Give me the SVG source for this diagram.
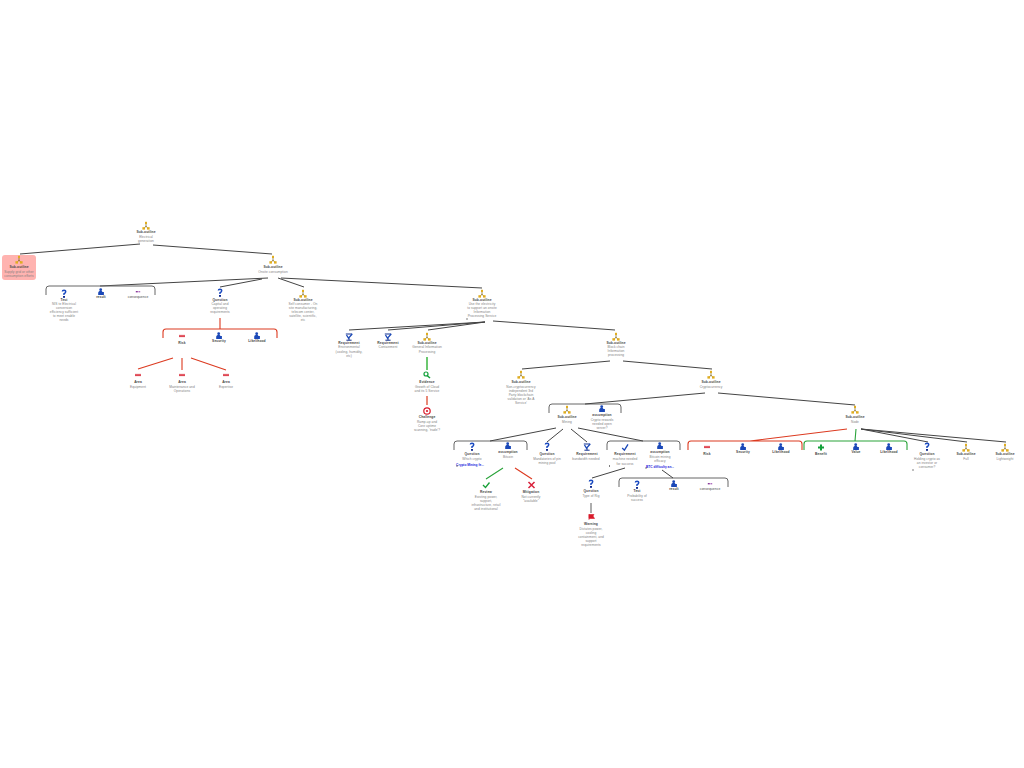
<svg xmlns="http://www.w3.org/2000/svg" width="1024" height="768" viewBox="0 0 1024 768">
<style>
text{font-family:"Liberation Sans",Arial,sans-serif;text-anchor:middle}
.t{font-size:3.3px;font-weight:bold;fill:#444;letter-spacing:.1px}
.b{font-size:3.2px;fill:#808080;letter-spacing:.08px}
.l{font-size:3.2px;fill:#22d;font-weight:bold}
.c{fill:none;stroke:#444;stroke-width:1}
.k{fill:none;stroke:#666;stroke-width:1}
.r{fill:none;stroke:#dc3a20;stroke-width:1.1}
.g{fill:none;stroke:#2aa33a;stroke-width:1.1}
</style>
<defs>
<g id="hier"><path d="M0-3V0M-2 2.5L0 0L2 2.5" fill="none" stroke="#7a6010" stroke-width=".7"/><rect x="-1" y="-4.200" width="2" height="2.200" fill="#e0ad20"/><rect x="-3.600" y="1.200" width="2.600" height="2.400" fill="#e0ad20"/><rect x="1" y="1.200" width="2.600" height="2.400" fill="#e0ad20"/></g>
<g id="q"><path d="M-1.600-2.400Q-1.600-3.800 0-3.800Q1.700-3.800 1.700-2.200Q1.700-1 0-.3V1" fill="none" stroke="#1a4ac0" stroke-width="1.500"/><rect x="-1" y="2" width="2" height="1.800" fill="#102a90"/></g>
<g id="p"><circle cx="-.3" cy="-2.300" r="1.400" fill="#1a48b8"/><path d="M-2.800 3V.6Q-2.400 -1.200 -.3 -1.200Q1 -1.200 1.500 0H2.900V3Z" fill="#1a48b8"/></g>
<g id="cons"><rect x="-2.200" y="-1" width="2" height="1.400" fill="#8a3a9a"/><rect x=".4" y="-1" width="1.800" height="1.400" fill="#b070c0"/></g>
<g id="minus"><rect x="-3" y="-1.100" width="6" height="2.200" fill="#d83040"/><rect x="-3" y="-.4" width="6" height=".6" fill="#f7a8a8"/></g>
<g id="req"><path d="M-3.200-3H3.200M-2.600 3.200H2.600M0 3.200V1" stroke="#103090" stroke-width="1" fill="none"/><path d="M-2.500-2L-.5 1.200L3.200-3" fill="none" stroke="#1a48b8" stroke-width="1.300"/></g>
<g id="chk"><path d="M-2.800 1L-.6 3.200L3-2.600" fill="none" stroke="#1a48b8" stroke-width="1.300"/></g>
</defs>

<g id="connectors">
<path class="c" d="M140 244L20 254M153 245L272 254M268 278L100 286M262 279L220 287M278 278L304 287M281 278L482 288"/>
<path class="k" d="M46 295v-6q0-3 3-3h103q3 0 3 3v6M549 413v-6q0-3 3-3h66q3 0 3 3v6M454 450v-6q0-3 3-3h67q3 0 3 3v6M607 450v-6q0-3 3-3h67q3 0 3 3v6M619 487v-6q0-3 3-3h103q3 0 3 3v6"/>
<path class="r" d="M220 318V329M163 338v-6q0-3 3-3h108q3 0 3 3v6M173 358L138 369M182 358V370M191 358L226 370M847 429L750 441M688 450v-6q0-3 3-3h108q3 0 3 3v6M515 468L532 479"/>
<path class="g" d="M804 450v-6q0-3 3-3h97q3 0 3 3v6M856 429L855 441M503 468L486 479"/>
<path class="c" d="M485 322L349 330M485 322L388 330M485 322L428 330M493 321L615 330M610 361L522 369M623 361L712 369M705 393L585 404M718 393L855 405M556 428L490 441M563 429L547 442M571 429L587 442M578 428L643 441M625 468L592 478M662 470L673 478M861 429L928 442M861 429L967 442M861 429L1006 442"/>
<path d="M427 357V370" fill="none" stroke="#6cc870" stroke-width="2"/>
<path d="M427 396V405" fill="none" stroke="#e88a78" stroke-width="2"/>
<path d="M591 503V513" fill="none" stroke="#999" stroke-width="1.600"/>
</g>

<g id="n-root"><use href="#hier" x="146" y="226"/><text class="t" x="146" y="232.500">Sub-outline</text><text class="b" x="146" y="238">Electrical</text><text class="b" x="146" y="242">generation</text></g>
<g id="n-grid"><rect x="2" y="255" width="34" height="25" rx="3" fill="#ffb3b0"/><use href="#hier" x="19" y="260"/><text class="t" x="19" y="267.500">Sub-outline</text><text class="b" x="19" y="272.500">Supply grid or other</text><text class="b" x="19" y="276.500">consumption efforts</text></g>
<g id="n-onsite"><use href="#hier" x="273" y="260"/><text class="t" x="273" y="267.500">Sub-outline</text><text class="b" x="273" y="272.500">Onsite consumption</text></g>
<g id="n-test1"><use href="#q" x="64" y="294"/><text class="t" x="64" y="300.500">Test</text><text class="b" x="64" y="305">NIS te Electrical</text><text class="b" x="64" y="309">conversion</text><text class="b" x="64" y="313">efficiency sufficient</text><text class="b" x="64" y="317">to meet enable</text><text class="b" x="64" y="321">needs</text></g>
<g id="n-result1"><use href="#p" x="101" y="292"/><text class="t" x="101" y="298">result</text></g>
<g id="n-cons1"><use href="#cons" x="138" y="292"/><text class="t" x="138" y="298" style="font-weight:normal">consequence</text></g>
<g id="n-q-capital"><use href="#q" x="220" y="293"/><text class="t" x="220" y="300.500">Question</text><text class="b" x="220" y="305">Capital and</text><text class="b" x="220" y="309">operating</text><text class="b" x="220" y="313">requirements</text></g>
<g id="n-self"><use href="#hier" x="303" y="294"/><text class="t" x="303" y="300.500">Sub-outline</text><text class="b" x="303" y="305">Self consumer - On</text><text class="b" x="303" y="309">site manufacturing,</text><text class="b" x="303" y="313">telecom center,</text><text class="b" x="303" y="317">satellite, scientific,</text><text class="b" x="303" y="321">etc</text></g>
<g id="n-risk1"><use href="#minus" x="182" y="336"/><text class="t" x="182" y="343.500">Risk</text></g>
<g id="n-sec1"><use href="#p" x="219" y="336"/><text class="t" x="219" y="341.500">Security</text></g>
<g id="n-lik1"><use href="#p" x="257" y="336"/><text class="t" x="257" y="341.500">Likelihood</text></g>
<g id="n-area1"><use href="#minus" x="138" y="375"/><text class="t" x="138" y="383">Area</text><text class="b" x="138" y="388">Equipment</text></g>
<g id="n-area2"><use href="#minus" x="182" y="375"/><text class="t" x="182" y="383">Area</text><text class="b" x="182" y="388">Maintenance and</text><text class="b" x="182" y="392">Operations</text></g>
<g id="n-area3"><use href="#minus" x="226" y="375"/><text class="t" x="226" y="383">Area</text><text class="b" x="226" y="388">Expertise</text></g>
<g id="n-use"><use href="#hier" x="482" y="294"/><text class="t" x="482" y="300.500">Sub-outline</text><text class="b" x="482" y="305">Use the electricity</text><text class="b" x="482" y="309">to support an onsite</text><text class="b" x="482" y="313">Information</text><text class="b" x="482" y="317">Processing Service</text><rect x="466.500" y="318.500" width="1" height="1" fill="#000"/></g>
<g id="n-req-env"><use href="#req" x="349" y="337"/><text class="t" x="349" y="343.500">Requirement</text><text class="b" x="349" y="348">Environmental</text><text class="b" x="349" y="352.500">(cooling, humidity,</text><text class="b" x="349" y="357">etc)</text></g>
<g id="n-req-con"><use href="#req" x="388" y="337"/><text class="t" x="388" y="343.500">Requirement</text><text class="b" x="388" y="348">Containment</text></g>
<g id="n-general"><use href="#hier" x="427" y="337"/><text class="t" x="427" y="343.500">Sub-outline</text><text class="b" x="427" y="348">General Information</text><text class="b" x="427" y="352.500">Processing</text></g>
<g id="n-evidence"><circle cx="426" cy="374" r="2" fill="none" stroke="#12a03a" stroke-width="1.200"/><path d="M427 375.500L430 378" stroke="#12a03a" stroke-width="1.500"/><text class="t" x="427" y="383">Evidence</text><text class="b" x="427" y="388">Growth of Cloud</text><text class="b" x="427" y="392">and its 5 Service</text></g>
<g id="n-challenge"><circle cx="427" cy="411" r="3.200" fill="#fff" stroke="#d81a2a" stroke-width="1.200"/><circle cx="427" cy="411" r="1.100" fill="#d81a2a"/><text class="t" x="427" y="418">Challenge</text><text class="b" x="427" y="423">Ramp-up and</text><text class="b" x="427" y="427">Core uptime</text><text class="b" x="427" y="431">scanning, 'trade'?</text></g>
<g id="n-block"><use href="#hier" x="616" y="337"/><text class="t" x="616" y="343.500">Sub-outline</text><text class="b" x="616" y="348">Block chain</text><text class="b" x="616" y="352">Information</text><text class="b" x="616" y="356">processing</text></g>
<g id="n-noncrypto"><use href="#hier" x="521" y="375"/><text class="t" x="521" y="383">Sub-outline</text><text class="b" x="521" y="387.500">Non-cryptocurrency</text><text class="b" x="521" y="391.500">independent 3rd</text><text class="b" x="521" y="395.500">Party blockchain</text><text class="b" x="521" y="399.500">validation or 'As A</text><text class="b" x="521" y="403.500">Service'</text></g>
<g id="n-crypto"><use href="#hier" x="711" y="375"/><text class="t" x="711" y="383">Sub-outline</text><text class="b" x="711" y="388">Cryptocurrency</text></g>
<g id="n-mining"><use href="#hier" x="567" y="410"/><text class="t" x="567" y="418">Sub-outline</text><text class="b" x="567" y="423">Mining</text></g>
<g id="n-assume1"><use href="#p" x="602" y="409"/><text class="t" x="602" y="416">assumption</text><text class="b" x="602" y="421">Crypto rewards</text><text class="b" x="602" y="425">needed open</text><text class="b" x="602" y="429">server?</text></g>
<g id="n-q-which"><use href="#q" x="472" y="447"/><text class="t" x="472" y="455">Question</text><text class="b" x="472" y="460">Which crypto</text><text class="l" x="470" y="465.500">Crypto Mining fe...</text><rect x="456.500" y="465.500" width="1" height="1" fill="#000"/></g>
<g id="n-assume-btc"><use href="#p" x="508" y="446"/><text class="t" x="508" y="453">assumption</text><text class="b" x="508" y="458">Bitcoin</text></g>
<g id="n-q-pin"><use href="#q" x="547" y="447"/><text class="t" x="547" y="455">Question</text><text class="b" x="547" y="460">Mandatories of pin</text><text class="b" x="547" y="464">mining pool</text></g>
<g id="n-req-band"><use href="#req" x="587" y="447"/><text class="t" x="587" y="455">Requirement</text><text class="b" x="586" y="460">bandwidth needed</text></g>
<g id="n-req-mach"><use href="#chk" x="625" y="447"/><text class="t" x="625" y="455">Requirement</text><text class="b" x="625" y="460">machine needed</text><text class="b" x="625" y="464.500">for success</text><rect x="609" y="465.500" width="1" height="1" fill="#000"/></g>
<g id="n-assume-eff"><use href="#p" x="660" y="446"/><text class="t" x="660" y="453">assumption</text><text class="b" x="660" y="458">Bitcoin mining</text><text class="b" x="660" y="462">efficacy</text><text class="l" x="660" y="467.500">BTC difficulty an...</text><rect x="645.500" y="467.500" width="1" height="1" fill="#000"/></g>
<g id="n-review"><path d="M483 485L485.500 487.500L489.500 482.500" fill="none" stroke="#18a038" stroke-width="1.300"/><text class="t" x="486" y="493">Review</text><text class="b" x="486" y="498">Existing power,</text><text class="b" x="486" y="502">support,</text><text class="b" x="486" y="506">infrastructure, retail</text><text class="b" x="486" y="510">and institutional</text></g>
<g id="n-mitigation"><path d="M528.500 482L534.500 488M534.500 482L528.500 488" fill="none" stroke="#d8203a" stroke-width="1.500"/><text class="t" x="531" y="493">Mitigation</text><text class="b" x="531" y="498">Not currently</text><text class="b" x="531" y="502">"available"</text></g>
<g id="n-q-rig"><use href="#q" x="591" y="484"/><text class="t" x="591" y="492">Question</text><text class="b" x="591" y="497">Type of Rig</text></g>
<g id="n-warning"><path d="M589 514V520M589 514.500H594L593 516L594.500 518.500H589Z" fill="#d81a2a" stroke="#d81a2a" stroke-width=".6"/><text class="t" x="591" y="525">Warning</text><text class="b" x="591" y="530">Dictates power,</text><text class="b" x="591" y="534">cooling</text><text class="b" x="591" y="538">containment, and</text><text class="b" x="591" y="542">support</text><text class="b" x="591" y="546">requirements</text></g>
<g id="n-test2"><use href="#q" x="637" y="485"/><text class="t" x="637" y="492">Test</text><text class="b" x="637" y="497">Probability of</text><text class="b" x="637" y="501">success</text></g>
<g id="n-result2"><use href="#p" x="674" y="484"/><text class="t" x="674" y="490">result</text></g>
<g id="n-cons2"><use href="#cons" x="710" y="484"/><text class="t" x="710" y="490" style="font-weight:normal">consequence</text></g>
<g id="n-node"><use href="#hier" x="855" y="410"/><text class="t" x="855" y="418">Sub-outline</text><text class="b" x="855" y="423">Node</text></g>
<g id="n-risk2"><use href="#minus" x="707" y="447"/><text class="t" x="707" y="455">Risk</text></g>
<g id="n-sec2"><use href="#p" x="743" y="447"/><text class="t" x="743" y="453">Security</text></g>
<g id="n-lik2"><use href="#p" x="781" y="447"/><text class="t" x="781" y="453">Likelihood</text></g>
<g id="n-benefit"><path d="M819 445.500h2v-2h2v2h2v2h-2v2h-2v-2h-2z" transform="translate(-1 1)" fill="#12a03a"/><text class="t" x="821" y="455">Benefit</text></g>
<g id="n-value"><use href="#p" x="856" y="447"/><text class="t" x="856" y="453">Value</text></g>
<g id="n-lik3"><use href="#p" x="889" y="447"/><text class="t" x="889" y="453">Likelihood</text></g>
<g id="n-q-hold"><use href="#q" x="927" y="447"/><text class="t" x="927" y="455">Question</text><text class="b" x="927" y="460">Holding crypto as</text><text class="b" x="927" y="464">an investor or</text><text class="b" x="927" y="468">consumer?</text><rect x="912.500" y="469.500" width="1" height="1" fill="#000"/></g>
<g id="n-full"><use href="#hier" x="966" y="448"/><text class="t" x="966" y="455">Sub-outline</text><text class="b" x="966" y="460">Full</text></g>
<g id="n-light"><use href="#hier" x="1005" y="448"/><text class="t" x="1005" y="455">Sub-outline</text><text class="b" x="1005" y="460">Lightweight</text></g>
</svg>
